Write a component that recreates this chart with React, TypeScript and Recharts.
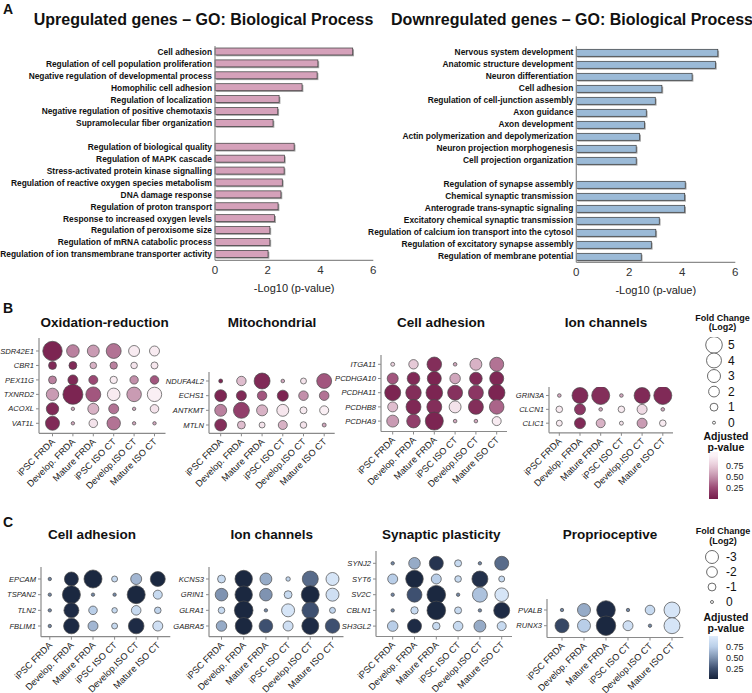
import React from 'react';
import { BarChart, Bar, XAxis, YAxis, ScatterChart, Scatter, ZAxis, Cell } from 'recharts';

const FONT = '"Liberation Sans", Arial, Helvetica, sans-serif';

// ---------- Panel A data ----------
const upTerms = [
  'Cell adhesion',
  'Regulation of cell population proliferation',
  'Negative regulation of developmental process',
  'Homophilic cell adhesion',
  'Regulation of localization',
  'Negative regulation of positive chemotaxis',
  'Supramolecular fiber organization',
  '',
  'Regulation of biological quality',
  'Regulation of MAPK cascade',
  'Stress-activated protein kinase signalling',
  'Regulation of reactive oxygen species metabolism',
  'DNA damage response',
  'Regulation of proton transport',
  'Response to increased oxygen levels',
  'Regulation of peroxisome size',
  'Regulation of mRNA catabolic process',
  'Regulation of ion transmembrane transporter activity',
];
const upValues = [5.22, 3.9, 3.87, 3.3, 2.43, 2.38, 2.2, null, 3.0, 2.63, 2.62, 2.55, 2.5, 2.39, 2.26, 2.08, 2.08, 2.01];

const downTerms = [
  'Nervous system development',
  'Anatomic structure development',
  'Neuron differentiation',
  'Cell adhesion',
  'Regulation of cell-junction assembly',
  'Axon guidance',
  'Axon development',
  'Actin polymerization and depolymerization',
  'Neuron projection morphogenesis',
  'Cell projection organization',
  '',
  'Regulation of synapse assembly',
  'Chemical synaptic transmission',
  'Anterograde trans-synaptic signaling',
  'Excitatory chemical synaptic transmission',
  'Regulation of calcium ion transport into the cytosol',
  'Regulation of excitatory synapse assembly',
  'Regulation of membrane potential',
];
const downValues = [5.34, 5.25, 4.37, 3.23, 2.98, 2.64, 2.57, 2.39, 2.26, 2.26, null, 4.11, 4.09, 4.09, 3.13, 3.0, 2.83, 2.45];

const barTicks = [0, 2, 4, 6];

// ---------- Panels B / C data ----------
const groups = ['iPSC FRDA', 'Develop. FRDA', 'Mature FRDA', 'iPSC ISO CT', 'Develop.ISO CT', 'Mature ISO CT'];

const oxGenes = ['SDR42E1', 'CBR1', 'PEX11G', 'TXNRD2', 'ACOXL', 'VAT1L'];
const oxFC = [
  [6.9, 2.8, 2.5, 4.0, 2.1, 1.7],
  [1.0, 1.0, 0.65, 0.85, 0.65, 0.75],
  [1.0, 1.7, 1.35, 0.85, 1.15, 1.2],
  [2.7, 7.3, 4.0, 2.8, 3.8, 3.7],
  [2.7, 0.05, 2.1, 1.7, 0.05, 1.2],
  [3.5, 0.05, 1.2, 3.2, 0.05, 0.05],
];
const oxP = [
  [0.05, 0.45, 0.55, 0.4, 0.95, 0.95],
  [0.08, 0.08, 0.65, 0.45, 0.9, 0.92],
  [0.45, 0.08, 0.25, 0.95, 0.5, 0.3],
  [0.55, 0.05, 0.3, 0.95, 0.55, 0.97],
  [0.08, 0.6, 0.65, 0.4, 0.6, 0.9],
  [0.08, 0.6, 0.9, 0.4, 0.6, 0.6],
];

const mitoGenes = ['NDUFA4L2', 'ECHS1', 'ANTKMT', 'MTLN'];
const mitoFC = [
  [0.13, 1.5, 4.6, 0.08, 0.5, 4.0],
  [2.5, 1.7, 1.5, 2.1, 1.55, 1.55],
  [2.5, 4.6, 2.1, 2.5, 0.75, 1.35],
  [2.5, 1.0, 0.5, 1.35, 0.65, 0.13],
];
const mitoP = [
  [0.05, 0.7, 0.08, 0.6, 0.9, 0.3],
  [0.05, 0.08, 0.3, 0.05, 0.5, 0.4],
  [0.45, 0.2, 0.65, 0.92, 0.95, 0.97],
  [0.1, 0.7, 0.9, 0.65, 0.9, 0.6],
];

const adhUpGenes = ['ITGA11', 'PCDHGA10', 'PCDHA11', 'PCDHB8', 'PCDHA9'];
const adhUpFC = [
  [0.13, 1.5, 3.8, 0.08, 2.5, 3.5],
  [2.1, 2.8, 3.5, 1.9, 2.8, 3.5],
  [4.6, 4.3, 5.0, 4.0, 4.0, 4.9],
  [1.7, 4.0, 4.0, 2.5, 4.0, 3.8],
  [2.5, 3.3, 5.9, 0.08, 0.08, 1.35],
];
const adhUpP = [
  [0.8, 0.75, 0.1, 0.6, 0.65, 0.4],
  [0.3, 0.08, 0.05, 0.6, 0.08, 0.07],
  [0.05, 0.1, 0.05, 0.12, 0.15, 0.05],
  [0.7, 0.07, 0.1, 0.9, 0.1, 0.35],
  [0.55, 0.2, 0.05, 0.6, 0.6, 0.95],
];

const ionUpGenes = ['GRIN3A', 'CLCN1', 'CLIC1'];
const ionUpFC = [
  [0.08, 4.6, 5.9, 0.08, 4.6, 5.9],
  [0.65, 2.1, 0.08, 0.65, 1.7, 0.08],
  [0.5, 2.1, 1.35, 0.13, 1.7, 0.65],
];
const ionUpP = [
  [0.6, 0.08, 0.1, 0.6, 0.08, 0.08],
  [0.95, 0.15, 0.6, 0.95, 0.85, 0.6],
  [0.95, 0.08, 0.65, 0.9, 0.55, 0.95],
];

const adhDownGenes = ['EPCAM', 'TSPAN2', 'TLN2', 'FBLIM1'];
const adhDownFC = [
  [-0.05, -3.5, -5.9, -0.5, -2.1, -4.0],
  [-0.05, -5.9, -0.05, -0.05, -5.9, -1.35],
  [-0.05, -4.0, -1.2, -0.4, -1.55, -0.65],
  [-0.05, -4.4, -1.7, -0.5, -4.4, -1.7],
];
const adhDownP = [
  [0.45, 0.05, 0.03, 0.85, 0.65, 0.03],
  [0.45, 0.03, 0.45, 0.45, 0.03, 0.85],
  [0.45, 0.05, 0.75, 0.85, 0.85, 0.8],
  [0.45, 0.04, 0.65, 0.85, 0.05, 0.9],
];

const ionDownGenes = ['KCNS3', 'GRIN1', 'GLRA1', 'GABRA5'];
const ionDownFC = [
  [-1.0, -5.5, -2.5, -0.2, -4.6, -3.0],
  [-2.8, -5.5, -2.8, -1.0, -5.9, -3.0],
  [-0.65, -6.3, -0.05, -3.0, -5.0, -0.5],
  [-1.9, -5.2, -3.3, -1.7, -5.2, -3.7],
];
const ionDownP = [
  [0.85, 0.03, 0.6, 0.8, 0.35, 0.95],
  [0.5, 0.03, 0.5, 0.85, 0.03, 0.9],
  [0.85, 0.03, 0.45, 0.95, 0.25, 0.8],
  [0.6, 0.03, 0.25, 0.9, 0.05, 0.25],
];

const synGenes = ['SYNJ2', 'SYT6', 'SV2C', 'CBLN1', 'SH3GL2'];
const synFC = [
  [-0.05, -2.35, -3.5, -0.75, -0.05, -3.5],
  [-1.7, -5.6, -1.7, -0.65, -4.6, -0.5],
  [-0.05, -4.0, -6.3, -0.05, -4.0, -3.3],
  [-0.05, -0.86, -6.3, -0.75, -0.05, -4.6],
  [-1.9, -3.5, -0.9, -1.55, -2.5, -1.35],
];
const synP = [
  [0.45, 0.6, 0.1, 0.85, 0.45, 0.35],
  [0.75, 0.03, 0.75, 0.85, 0.08, 0.85],
  [0.45, 0.25, 0.03, 0.45, 0.7, 0.95],
  [0.45, 0.85, 0.03, 0.85, 0.45, 0.05],
  [0.75, 0.05, 0.85, 0.85, 0.6, 0.85],
];

const propGenes = ['PVALB', 'RUNX3'];
const propFC = [
  [-0.05, -3.0, -6.3, -0.05, -1.55, -4.6],
  [-3.5, -3.0, -6.9, -1.7, -0.05, -4.6],
];
const propP = [
  [0.45, 0.6, 0.05, 0.45, 0.85, 0.95],
  [0.2, 0.75, 0.03, 0.9, 0.45, 0.95],
];

const legendUpValues = [5, 4, 3, 2, 1, 0];
const legendDownValues = [-3, -2, -1, 0];
const pTicks = [0.25, 0.5, 0.75];

// ---------- styling ----------
const upStops = ['#741C4A', '#9A4873', '#C28FAA', '#E6C9D7', '#FDF4F8'];
const downStops = ['#16223A', '#3E5070', '#7F93B1', '#B9CEE8', '#DDEBFB'];

function hexToRgb(h: string) {
  const n = parseInt(h.slice(1), 16);
  return [(n >> 16) & 255, (n >> 8) & 255, n & 255];
}
function colorAt(stops: string[], t: number) {
  const tt = Math.max(0, Math.min(1, t));
  const seg = (stops.length - 1) * tt;
  const i = Math.min(Math.floor(seg), stops.length - 2);
  const f = seg - i;
  const a = hexToRgb(stops[i]);
  const b = hexToRgb(stops[i + 1]);
  const c = a.map((v, k) => Math.round(v + (b[k] - v) * f));
  return `rgb(${c[0]},${c[1]},${c[2]})`;
}

const Z_DOMAIN = [0, 8];
const Z_RANGE = [7, 343];

const ShadowBar = (props: any) => {
  const { x, y, width, height, fill } = props;
  if (!width || width <= 0) return null;
  return (
    <g>
      <rect x={x + 1.3} y={y + 1.3} width={width} height={height} fill="#a3a3a3" />
      <rect x={x} y={y} width={width} height={height} fill={fill} stroke="#3a3a3a" strokeWidth={0.7} />
    </g>
  );
};

const BarLabel = (props: any) => {
  const { x, y, payload } = props;
  return (
    <text x={x} y={y} dy="0.35em" textAnchor="end" fontSize={8.4} fontWeight="bold" fill="#111" fontFamily={FONT}>
      {payload.value}
    </text>
  );
};

function GoBarChart({ terms, values, fill, left, width, yw, right, top, plotBottom }: any) {
  const height = 300;
  const xh = 34;
  const data = terms.map((t: string, i: number) => ({ name: t, v: values[i] }));
  const bottom = height - plotBottom - xh;
  return (
    <div style={{ position: 'absolute', left, top: 0 }}>
      <BarChart width={width} height={height} layout="vertical" data={data} margin={{ top, right, bottom, left: 0 }} barCategoryGap={0}>
        <XAxis
          type="number"
          domain={[0, 6]}
          ticks={barTicks}
          height={xh}
          axisLine={{ stroke: '#8c8c8c', strokeWidth: 1.2 }}
          tickLine={false}
          tickSize={0}
          tickMargin={6}
          tick={{ fontSize: 11.5, fill: '#333', fontFamily: FONT }}
          label={{ value: '-Log10 (p-value)', position: 'insideBottom', offset: 2, style: { fontSize: 11, fill: '#222', fontFamily: FONT } }}
        />
        <YAxis
          type="category"
          dataKey="name"
          width={yw}
          interval={0}
          axisLine={{ stroke: '#8c8c8c', strokeWidth: 1.2 }}
          tickLine={false}
          tickSize={0}
          tickMargin={3}
          tick={<BarLabel />}
        />
        <Bar dataKey="v" fill={fill} barSize={7} shape={<ShadowBar />} isAnimationActive={false} />
      </BarChart>
    </div>
  );
}

const XTick = (props: any) => {
  const { x, y, payload } = props;
  const ax = x + 3;
  const ay = y + 4;
  return (
    <text x={ax} y={ay} textAnchor="end" transform={`rotate(-45 ${ax} ${ay})`} fontSize={9.2} fill="#222" fontFamily={FONT}>
      {groups[payload.value]}
    </text>
  );
};

const YTick = (props: any) => {
  const { x, y, payload, genes } = props;
  return (
    <text x={x} y={y} dy="0.35em" textAnchor="end" fontSize={7.6} fontStyle="italic" fill="#222" fontFamily={FONT}>
      {genes[payload.value]}
    </text>
  );
};

type Spec = {
  genes: string[];
  fc: number[][];
  pv: number[][];
  stops: string[];
  axisX: number;
  firstCol: number;
  colStep: number;
  plotRight: number;
  plotTop: number;
  firstRow: number;
  rowStep: number;
  plotBottom: number;
};

function DotPanel({ s }: { s: Spec }) {
  const yw = 62;
  const xh = 70;
  const mt = 2;
  const mr = 2;
  const width = yw + (s.plotRight - s.axisX) + mr;
  const height = mt + (s.plotBottom - s.plotTop) + xh;
  const data = s.genes.flatMap((g, i) => groups.map((_, j) => ({ x: j, y: i, z: Math.abs(s.fc[i][j]), p: s.pv[i][j] })));
  const xd = [(s.axisX - s.firstCol) / s.colStep, (s.plotRight - s.firstCol) / s.colStep];
  const yd = [(s.plotTop - s.firstRow) / s.rowStep, (s.plotBottom - s.firstRow) / s.rowStep];
  return (
    <div style={{ position: 'absolute', left: s.axisX - yw, top: s.plotTop - mt }}>
      <ScatterChart width={width} height={height} margin={{ top: mt, right: mr, bottom: 0, left: 0 }}>
        <XAxis
          type="number"
          dataKey="x"
          domain={xd}
          allowDataOverflow
          ticks={[0, 1, 2, 3, 4, 5]}
          interval={0}
          height={xh}
          tickSize={3}
          tickMargin={2}
          tick={<XTick />}
          axisLine={{ stroke: '#8a8a8a', strokeWidth: 1.2 }}
          tickLine={{ stroke: '#8a8a8a' }}
        />
        <YAxis
          type="number"
          dataKey="y"
          domain={yd}
          allowDataOverflow
          reversed
          ticks={s.genes.map((_, i) => i)}
          interval={0}
          width={yw}
          tickSize={3}
          tickMargin={2}
          tick={<YTick genes={s.genes} />}
          axisLine={{ stroke: '#8a8a8a', strokeWidth: 1.2 }}
          tickLine={{ stroke: '#8a8a8a' }}
        />
        <ZAxis type="number" dataKey="z" domain={Z_DOMAIN} range={Z_RANGE} />
        <Scatter data={data} isAnimationActive={false} stroke="#4a4a4a" strokeWidth={0.7}>
          {data.map((d, k) => (
            <Cell key={k} fill={colorAt(s.stops, d.p)} />
          ))}
        </Scatter>
      </ScatterChart>
    </div>
  );
}

const LegTick = (props: any) => {
  const { x, y, payload } = props;
  return (
    <text x={x} y={y} dy="0.36em" textAnchor="start" fontSize={12} fill="#111" fontFamily={FONT}>
      {payload.value}
    </text>
  );
};

function SizeLegend({ values, centerX, plotTop, plotBottom, domain, reversed }: any) {
  const half = 10;
  const yw = 30;
  const data = values.map((v: number) => ({ x: 0, y: v, z: Math.abs(v) }));
  return (
    <div style={{ position: 'absolute', left: centerX - half, top: plotTop }}>
      <ScatterChart width={half * 2 + yw} height={plotBottom - plotTop} margin={{ top: 0, right: 0, bottom: 0, left: 0 }}>
        <XAxis type="number" dataKey="x" domain={[-1, 1]} hide />
        <YAxis
          type="number"
          dataKey="y"
          orientation="right"
          domain={domain}
          reversed={reversed}
          allowDataOverflow
          ticks={values}
          interval={0}
          width={yw}
          axisLine={false}
          tickLine={false}
          tickSize={0}
          tickMargin={4}
          tick={<LegTick />}
        />
        <ZAxis type="number" dataKey="z" domain={Z_DOMAIN} range={Z_RANGE} />
        <Scatter data={data} isAnimationActive={false} fill="#ffffff" stroke="#444" strokeWidth={0.8} />
      </ScatterChart>
    </div>
  );
}

const PTick = (props: any) => {
  const { x, y, payload } = props;
  return (
    <text x={x} y={y} dy="0.35em" textAnchor="start" fontSize={9} fill="#222" fontFamily={FONT}>
      {payload.value.toFixed(2)}
    </text>
  );
};

function ColorBar({ gradId, left, top, pTop, pxPerUnit }: any) {
  const h = pTop * pxPerUnit;
  return (
    <div style={{ position: 'absolute', left, top }}>
      <BarChart width={10 + 32} height={h} data={[{ k: 'p', v: pTop }]} margin={{ top: 0, right: 0, bottom: 0, left: 0 }} barCategoryGap={0}>
        <XAxis type="category" dataKey="k" hide />
        <YAxis
          type="number"
          orientation="right"
          domain={[0, pTop]}
          allowDataOverflow
          ticks={pTicks}
          interval={0}
          width={32}
          axisLine={false}
          tickLine={false}
          tickSize={0}
          tickMargin={8}
          tick={<PTick />}
        />
        <Bar dataKey="v" fill={`url(#${gradId})`} barSize={10} isAnimationActive={false} />
      </BarChart>
    </div>
  );
}

function Gradient({ id, stops, pTop }: any) {
  const n = 12;
  return (
    <linearGradient id={id} x1="0" y1="0" x2="0" y2="1">
      {Array.from({ length: n + 1 }, (_, k) => {
        const o = k / n;
        return <stop key={k} offset={o} stopColor={colorAt(stops, pTop * (1 - o))} />;
      })}
    </linearGradient>
  );
}

const bSpecs: Spec[] = [
  { genes: oxGenes, fc: oxFC, pv: oxP, stops: upStops, axisX: 38.5, firstCol: 52, colStep: 20.4, plotRight: 165, plotTop: 338, firstRow: 351, rowStep: 14.46, plotBottom: 433.3 },
  { genes: mitoGenes, fc: mitoFC, pv: mitoP, stops: upStops, axisX: 209.3, firstCol: 221, colStep: 20.7, plotRight: 335, plotTop: 372, firstRow: 381, rowStep: 14.67, plotBottom: 433.3 },
  { genes: adhUpGenes, fc: adhUpFC, pv: adhUpP, stops: upStops, axisX: 381, firstCol: 392.7, colStep: 20.8, plotRight: 507, plotTop: 355, firstRow: 364.3, rowStep: 14.2, plotBottom: 431.5 },
  { genes: ionUpGenes, fc: ionUpFC, pv: ionUpP, stops: upStops, axisX: 549, firstCol: 559.3, colStep: 20.7, plotRight: 673, plotTop: 386.5, firstRow: 395, rowStep: 13.85, plotBottom: 432.3 },
];

const cSpecs: Spec[] = [
  { genes: adhDownGenes, fc: adhDownFC, pv: adhDownP, stops: downStops, axisX: 40.7, firstCol: 49.5, colStep: 21.6, plotRight: 170, plotTop: 567, firstRow: 579, rowStep: 15.67, plotBottom: 636.7 },
  { genes: ionDownGenes, fc: ionDownFC, pv: ionDownP, stops: downStops, axisX: 208.5, firstCol: 221, colStep: 22.2, plotRight: 343, plotTop: 567, firstRow: 579, rowStep: 15.67, plotBottom: 636.7 },
  { genes: synGenes, fc: synFC, pv: synP, stops: downStops, axisX: 376, firstCol: 392.7, colStep: 21.8, plotRight: 512, plotTop: 551, firstRow: 563.3, rowStep: 15.7, plotBottom: 636.5 },
  { genes: propGenes, fc: propFC, pv: propP, stops: downStops, axisX: 546.7, firstCol: 561.7, colStep: 22, plotRight: 683, plotTop: 599, firstRow: 610, rowStep: 15.7, plotBottom: 637.5 },
];

const T = (p: any) => <text fontFamily={FONT} fill="#111" {...p} />;

export default function App() {
  return (
    <div style={{ position: 'absolute', left: 0, top: 0, width: 752, height: 693, background: '#fff', overflow: 'hidden', fontFamily: FONT }}>
      <svg width={0} height={0} style={{ position: 'absolute' }}>
        <defs>
          <Gradient id="gradUp" stops={upStops} pTop={1.07} />
          <Gradient id="gradDown" stops={downStops} pTop={1.0} />
        </defs>
      </svg>

      <GoBarChart terms={upTerms} values={upValues} fill="#D5A1BA" left={0} width={400} yw={215} right={26.7} top={46} plotBottom={260.3} />
      <GoBarChart terms={downTerms} values={downValues} fill="#9BBAD7" left={360} width={392} yw={216.3} right={16.7} top={46.3} plotBottom={262.3} />

      {bSpecs.map((s, i) => (
        <DotPanel key={'b' + i} s={s} />
      ))}
      {cSpecs.map((s, i) => (
        <DotPanel key={'c' + i} s={s} />
      ))}

      <SizeLegend values={legendUpValues} centerX={714} plotTop={337} plotBottom={430} domain={[-0.47, 5.51]} reversed={false} />
      <SizeLegend values={legendDownValues} centerX={712} plotTop={548.3} plotBottom={609.8} domain={[-3.6, 0.5]} reversed={true} />

      <ColorBar gradId="gradUp" left={708} top={499 - 1.07 * 44} pTop={1.07} pxPerUnit={44} />
      <ColorBar gradId="gradDown" left={708} top={679.3 - 43.2} pTop={1.0} pxPerUnit={43.2} />

      <svg width={752} height={693} style={{ position: 'absolute', left: 0, top: 0, pointerEvents: 'none' }}>
        <T x={3} y={13.5} fontSize={14} fontWeight="bold">A</T>
        <T x={203.5} y={25} fontSize={16} fontWeight="bold" textAnchor="middle">Upregulated genes – GO: Biological Process</T>
        <T x={572} y={25} fontSize={16} fontWeight="bold" textAnchor="middle">Downregulated genes – GO: Biological Process</T>

        <T x={3} y={313} fontSize={14} fontWeight="bold">B</T>
        <T x={104.5} y={327} fontSize={13.5} fontWeight="bold" textAnchor="middle">Oxidation-reduction</T>
        <T x={272} y={327} fontSize={13.5} fontWeight="bold" textAnchor="middle">Mitochondrial</T>
        <T x={441} y={327} fontSize={13.5} fontWeight="bold" textAnchor="middle">Cell adhesion</T>
        <T x={606} y={327} fontSize={13.5} fontWeight="bold" textAnchor="middle">Ion channels</T>
        <T x={722.5} y={320.5} fontSize={9} fontWeight="bold" textAnchor="middle">Fold Change</T>
        <T x={722.5} y={330} fontSize={9} fontWeight="bold" textAnchor="middle">(Log2)</T>
        <T x={726} y={440} fontSize={10.5} fontWeight="bold" textAnchor="middle">Adjusted</T>
        <T x={726} y={450.5} fontSize={10.5} fontWeight="bold" textAnchor="middle">p-value</T>

        <T x={3} y={526.5} fontSize={14} fontWeight="bold">C</T>
        <T x={92} y={539} fontSize={13.5} fontWeight="bold" textAnchor="middle">Cell adhesion</T>
        <T x={271.7} y={539} fontSize={13.5} fontWeight="bold" textAnchor="middle">Ion channels</T>
        <T x={441.3} y={539} fontSize={13.5} fontWeight="bold" textAnchor="middle">Synaptic plasticity</T>
        <T x={610} y={539} fontSize={13.5} fontWeight="bold" textAnchor="middle">Proprioceptive</T>
        <T x={723} y={533.5} fontSize={9} fontWeight="bold" textAnchor="middle">Fold Change</T>
        <T x={723} y={543.5} fontSize={9} fontWeight="bold" textAnchor="middle">(Log2)</T>
        <T x={726} y={620.5} fontSize={10.5} fontWeight="bold" textAnchor="middle">Adjusted</T>
        <T x={726} y={632} fontSize={10.5} fontWeight="bold" textAnchor="middle">p-value</T>
      </svg>
    </div>
  );
}
